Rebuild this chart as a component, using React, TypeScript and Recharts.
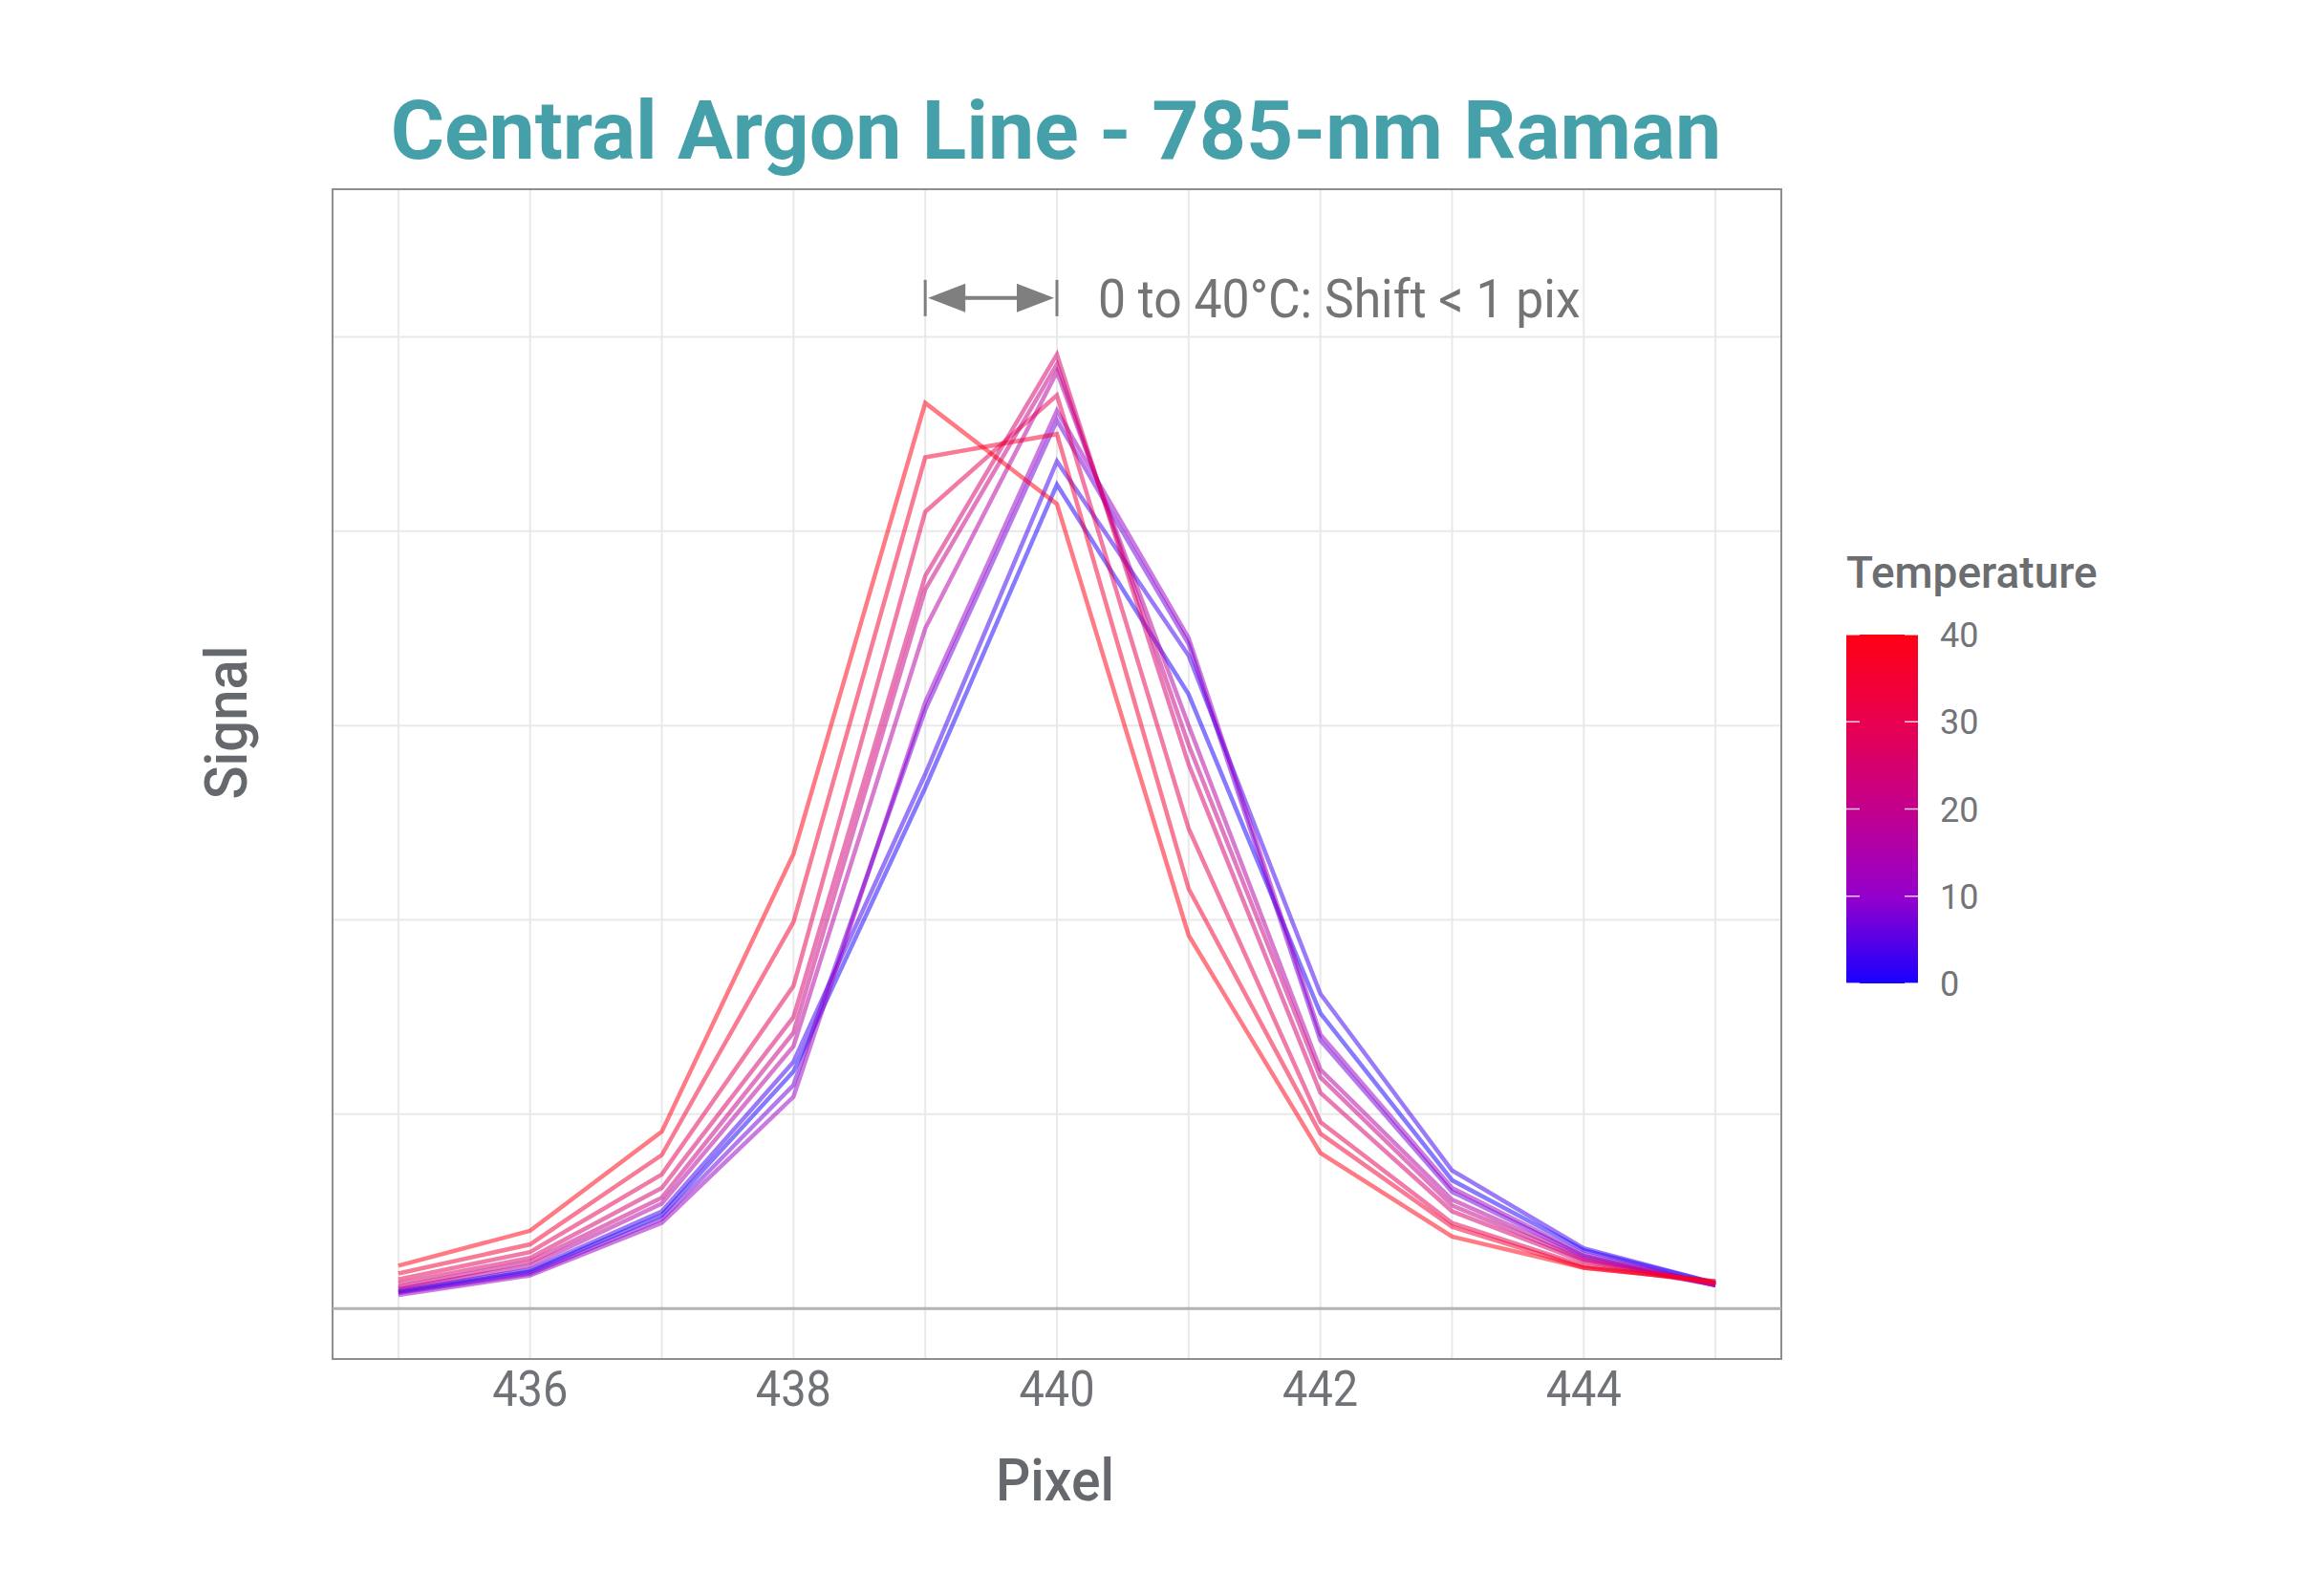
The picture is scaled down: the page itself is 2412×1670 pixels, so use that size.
import React from "react";
import {
  LineChart,
  Line,
  XAxis,
  YAxis,
  CartesianGrid,
  ReferenceLine,
  ReferenceArea,
} from "recharts";

// pixel positions on the detector
const pixels = [435, 436, 437, 438, 439, 440, 441, 442, 443, 444, 445];

// temperature (°C) of each recorded spectrum
const temps = [0, 3, 7, 11, 17, 21, 25, 29, 35, 40];

// signal per spectrum, one value per pixel (arbitrary units)
const sigT0 = [0.085, 0.19, 0.48, 1.22, 2.68, 4.24, 3.16, 1.52, 0.66, 0.3, 0.13];
const sigT3 = [0.09, 0.2, 0.5, 1.27, 2.75, 4.36, 3.36, 1.62, 0.71, 0.31, 0.13];
const sigT7 = [0.08, 0.18, 0.46, 1.15, 3.08, 4.57, 3.42, 1.38, 0.6, 0.27, 0.12];
const sigT11 = [0.07, 0.17, 0.44, 1.09, 3.12, 4.62, 3.45, 1.41, 0.62, 0.28, 0.12];
const sigT17 = [0.1, 0.22, 0.54, 1.35, 3.5, 4.82, 3.0, 1.23, 0.56, 0.26, 0.12];
const sigT21 = [0.11, 0.24, 0.57, 1.42, 3.7, 4.86, 2.9, 1.19, 0.53, 0.25, 0.12];
const sigT25 = [0.13, 0.26, 0.62, 1.5, 3.77, 4.91, 2.8, 1.11, 0.5, 0.24, 0.13];
const sigT29 = [0.15, 0.29, 0.69, 1.66, 4.1, 4.7, 2.47, 0.96, 0.44, 0.22, 0.13];
const sigT35 = [0.18, 0.33, 0.79, 1.99, 4.38, 4.5, 2.16, 0.9, 0.42, 0.21, 0.14];
const sigT40 = [0.22, 0.4, 0.91, 2.34, 4.66, 4.14, 1.92, 0.8, 0.37, 0.21, 0.14];

const signals = [sigT0, sigT3, sigT7, sigT11, sigT17, sigT21, sigT25, sigT29, sigT35, sigT40];

// axis ticks
const xTicks = [436, 438, 440, 442, 444];
const xGrid = [435, 436, 437, 438, 439, 440, 441, 442, 443, 444, 445];
const yGrid = [0, 1, 2, 3, 4, 5];
const legendTicks = [0, 10, 20, 30, 40];

// colour scale used by the lines and the colour bar
const colorStops: [number, string][] = [
  [0, "#1a00ff"],
  [10, "#9500cc"],
  [20, "#c3008c"],
  [30, "#e8004f"],
  [40, "#ff0014"],
];

const hex = (c: string) => [1, 3, 5].map((i) => parseInt(c.slice(i, i + 2), 16));

const tempColor = (t: number) => {
  for (let k = 0; k < colorStops.length - 1; k++) {
    const [t0, c0] = colorStops[k];
    const [t1, c1] = colorStops[k + 1];
    if (t <= t1) {
      const f = (t - t0) / (t1 - t0);
      const a = hex(c0);
      const b = hex(c1);
      const m = a.map((v, i) => Math.round(v + (b[i] - v) * f));
      return `rgb(${m[0]},${m[1]},${m[2]})`;
    }
  }
  return colorStops[colorStops.length - 1][1];
};

const data = pixels.map((p, k) => {
  const row: Record<string, number> = { pixel: p };
  temps.forEach((t, i) => {
    row[`t${t}`] = signals[i][k];
  });
  return row;
});

const W = 2412;
const H = 1670;
const FONT = "Roboto, 'Noto Sans', sans-serif";
const GREY = "#65696d";

const XTick = (props: any) => {
  const { x, y, payload } = props;
  return (
    <text
      transform={`translate(${x},${y + 49}) scale(0.92,1)`}
      textAnchor="middle"
      fontSize={51}
      fontFamily={FONT}
      fill="#6f7276"
    >
      {payload.value}
    </text>
  );
};

// double arrow with end bars and the note next to it
const ShiftArrow = (props: any) => {
  const { x1, y1, x2 } = props;
  if (x1 == null) return null;
  const c = "#7f7f7f";
  return (
    <g>
      <line x1={x1} y1={y1 - 19} x2={x1} y2={y1 + 19} stroke={c} strokeWidth={3} />
      <line x1={x2} y1={y1 - 19} x2={x2} y2={y1 + 19} stroke={c} strokeWidth={3} />
      <line x1={x1 + 30} y1={y1} x2={x2 - 30} y2={y1} stroke={c} strokeWidth={4} />
      <polygon points={`${x1 + 3},${y1} ${x1 + 42},${y1 - 15} ${x1 + 42},${y1 + 15}`} fill={c} />
      <polygon points={`${x2 - 3},${y1} ${x2 - 42},${y1 - 15} ${x2 - 42},${y1 + 15}`} fill={c} />
      <text
        transform={`translate(${x2 + 43},${y1 + 20}) scale(0.94,1)`}
        fontSize={55}
        fontFamily={FONT}
        fill="#747474"
      >
        0 to 40°C: Shift &lt; 1 pix
      </text>
    </g>
  );
};

const barX = 1932;
const barW = 75;
const barTop = 664;
const barH = 365;
const tToY = (t: number) => barTop + barH - (t / 40) * barH;

const App = () => {
  return (
    <div style={{ position: "absolute", left: 0, top: 0, width: W, height: H, background: "#fff" }}>
      <LineChart
        width={W}
        height={H}
        data={data}
        margin={{ top: 198, right: 548, bottom: 0, left: 348 }}
      >
        <CartesianGrid
          stroke="#e9e9e9"
          strokeWidth={2}
          horizontalValues={yGrid}
          verticalValues={xGrid}
        />
        <XAxis
          dataKey="pixel"
          type="number"
          domain={[434.5, 445.5]}
          allowDataOverflow
          ticks={xTicks}
          height={248}
          axisLine={false}
          tickLine={false}
          tickSize={0}
          tickMargin={0}
          tick={<XTick />}
          interval={0}
        />
        <YAxis type="number" domain={[-0.26, 5.76]} allowDataOverflow hide />
        <ReferenceLine y={0} stroke="#b3b3b3" strokeWidth={3} />
        {temps.map((t) => (
          <Line
            key={t}
            type="linear"
            dataKey={`t${t}`}
            stroke={tempColor(t)}
            strokeOpacity={0.52}
            strokeWidth={4.5}
            dot={false}
            activeDot={false}
            isAnimationActive={false}
          />
        ))}
        <ReferenceLine
          segment={[
            { x: 439, y: 5.2 },
            { x: 440, y: 5.2 },
          ]}
          ifOverflow="visible"
          shape={<ShiftArrow />}
        />
        <ReferenceArea
          x1={434.5}
          x2={445.5}
          y1={-0.26}
          y2={5.76}
          fill="none"
          fillOpacity={0}
          stroke="#8e8e8e"
          strokeWidth={2}
          ifOverflow="visible"
        />
      </LineChart>
      <svg
        width={W}
        height={H}
        style={{ position: "absolute", left: 0, top: 0, pointerEvents: "none" }}
      >
        <defs>
          <linearGradient id="tempGrad" x1="0" y1="1" x2="0" y2="0">
            {colorStops.map(([t, c]) => (
              <stop key={t} offset={`${(t / 40) * 100}%`} stopColor={c} />
            ))}
          </linearGradient>
        </defs>
        <text
          x={1105}
          y={166}
          textAnchor="middle"
          fontSize={86}
          fontWeight={700}
          fontFamily={FONT}
          fill="#46a0aa"
        >
          Central Argon Line - 785-nm Raman
        </text>
        <text
          transform="translate(258,756) rotate(-90) scale(0.95,1)"
          textAnchor="middle"
          fontSize={61}
          fontWeight={500}
          fontFamily={FONT}
          fill={GREY}
        >
          Signal
        </text>
        <text
          transform="translate(1104,1570) scale(0.92,1)"
          textAnchor="middle"
          fontSize={62}
          fontWeight={500}
          fontFamily={FONT}
          fill={GREY}
        >
          Pixel
        </text>
        <text x={barX} y={615} fontSize={46} fontWeight={500} fontFamily={FONT} fill="#6b6d70">
          Temperature
        </text>
        <rect x={barX} y={barTop} width={barW} height={barH} fill="url(#tempGrad)" />
        {legendTicks.map((t) => (
          <g key={t}>
            <line x1={barX} x2={barX + 14} y1={tToY(t)} y2={tToY(t)} stroke="#fff" strokeWidth={1.5} strokeOpacity={0.8} />
            <line x1={barX + barW - 14} x2={barX + barW} y1={tToY(t)} y2={tToY(t)} stroke="#fff" strokeWidth={1.5} strokeOpacity={0.8} />
            <text
              x={2030}
              y={tToY(t) + 13}
              fontSize={36}
              fontFamily={FONT}
              fill="#727477"
            >
              {t}
            </text>
          </g>
        ))}
      </svg>
    </div>
  );
};

export default App;
